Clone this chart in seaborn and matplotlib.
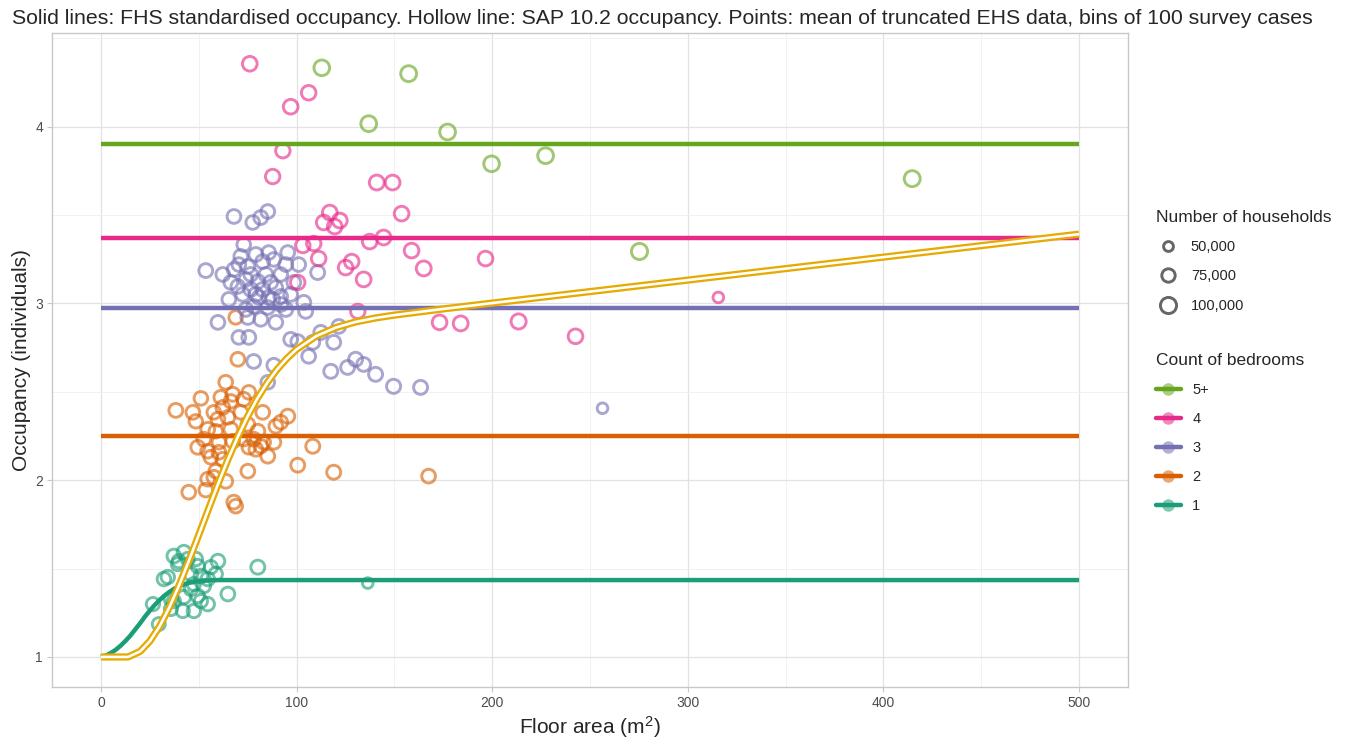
import numpy as np
import pandas as pd
import matplotlib
matplotlib.use("Agg")
import matplotlib.pyplot as plt
import seaborn as sns
from matplotlib.lines import Line2D
from matplotlib.colors import to_rgba

# ---------------- data ----------------
bedroom_order = ["5+", "4", "3", "2", "1"]
palette = {"1": "#1B9E77", "2": "#D95F02", "3": "#7570B3", "4": "#E7298A", "5+": "#66A61E"}
sap_colour = "#E6AB02"

# FHS standardised occupancy (horizontal lines)
fhs_bedrooms = ["5+", "4", "3", "2"]
fhs_occ = [3.90, 3.373, 2.977, 2.249]
fhs_area_range = [0, 500]

# 1-bedroom FHS curve
bed1_area = [0, 2.5, 5, 7.5, 10, 12.5, 15, 17.5, 20, 22.5, 25, 27.5, 30, 32.5, 35, 37.5, 40,
             42.5, 45, 47.5, 50, 55, 60, 70, 500]
bed1_occ = [1.00, 1.008, 1.022, 1.04, 1.063, 1.09, 1.12, 1.155, 1.19, 1.228, 1.262, 1.294, 1.322,
            1.347, 1.368, 1.386, 1.400, 1.411, 1.419, 1.425, 1.429, 1.433, 1.435, 1.435, 1.435]

# SAP 10.2 occupancy curve
sap_area = [0, 13.9, 20, 25, 30, 35, 40, 45, 50, 55, 60, 65, 70, 75, 80, 85, 90, 95, 100,
            110, 120, 130, 140, 150, 175, 200, 300, 400, 500]
sap_occ = [1.0, 1.0, 1.031, 1.089, 1.173, 1.281, 1.406, 1.545, 1.690, 1.837, 1.982, 2.119,
           2.246, 2.361, 2.463, 2.551, 2.626, 2.688, 2.740, 2.815, 2.863, 2.895, 2.917,
           2.934, 2.969, 3.002, 3.132, 3.262, 3.392]

# EHS binned means
b1_area = [26.6, 29.6, 32.2, 34.2, 37.3, 39.8, 42.4, 44.4, 39.3, 49.5, 59.8, 56.2, 46.0, 51.1, 54.6,
           47.5, 46.0, 49.5, 54.6, 41.9, 47.5, 35.8, 35.8, 51.1, 52.6, 64.9, 80.2, 136.4, 42.4, 37.3,
           48.5, 58.7]
b1_occ = [1.299, 1.186, 1.441, 1.452, 1.571, 1.542, 1.593, 1.554, 1.525, 1.514, 1.542, 1.508, 1.469,
          1.458, 1.441, 1.412, 1.384, 1.345, 1.299, 1.260, 1.260, 1.271, 1.328, 1.316, 1.401, 1.356,
          1.508, 1.418, 1.339, 1.316, 1.554, 1.469]
b1_hh = [74000, 72000, 76000, 75000, 78000, 74000, 77000, 75000, 73000, 76000, 78000, 74000, 75000,
         77000, 76000, 74000, 73000, 75000, 76000, 74000, 75000, 73000, 76000, 74000, 75000, 78000,
         80000, 55000, 75000, 74000, 76000, 75000]

b2_area = [63.8, 51.1, 38.3, 47.0, 48.5, 61.3, 67.4, 75.6, 73.0, 66.4, 62.3, 57.7, 59.8, 64.9, 71.5,
           82.7, 95.5, 91.9, 89.4, 54.6, 58.7, 66.4, 75.1, 80.2, 52.6, 60.3, 67.4, 73.0, 78.1, 83.2,
           88.4, 49.5, 54.6, 60.3, 75.6, 79.2, 81.7, 85.3, 56.2, 62.3, 108.3, 100.6, 119.0, 75.1, 58.7,
           54.6, 57.7, 63.8, 44.9, 53.6, 67.9, 68.9, 68.9, 70.0, 167.5]
b2_occ = [2.554, 2.463, 2.395, 2.384, 2.333, 2.469, 2.486, 2.497, 2.458, 2.446, 2.412, 2.384, 2.345,
          2.356, 2.384, 2.384, 2.362, 2.328, 2.305, 2.288, 2.277, 2.288, 2.316, 2.277, 2.232, 2.215,
          2.220, 2.232, 2.232, 2.215, 2.215, 2.186, 2.164, 2.158, 2.186, 2.175, 2.192, 2.136, 2.130,
          2.119, 2.192, 2.085, 2.045, 2.051, 2.051, 2.006, 2.017, 1.994, 1.932, 1.944, 1.876, 1.853,
          2.921, 2.684, 2.023]
b2_hh = [78000, 77000, 79000, 78000, 76000, 78000, 79000, 77000, 78000, 76000, 78000, 77000, 79000,
         78000, 77000, 78000, 80000, 78000, 77000, 78000, 76000, 78000, 77000, 79000, 78000, 77000,
         78000, 76000, 78000, 77000, 79000, 78000, 77000, 78000, 76000, 78000, 77000, 79000, 78000,
         77000, 80000, 79000, 80000, 78000, 77000, 78000, 77000, 79000, 78000, 77000, 78000, 77000,
         76000, 78000, 78000]

b3_area = [68.0, 77.6, 81.7, 85.3, 73.0, 71.5, 79.2, 85.8, 95.5, 53.6, 62.3, 68.0, 75.1, 82.7, 88.4,
           101.1, 110.8, 66.4, 74.1, 80.2, 86.8, 91.9, 98.6, 65.4, 72.5, 79.2, 85.8, 91.9, 97.0, 103.7,
           78.1, 85.3, 91.9, 75.1, 81.7, 89.4, 59.8, 70.5, 75.6, 97.0, 100.6, 78.1, 88.4, 85.3, 106.2,
           112.4, 119.0, 121.6, 108.3, 117.5, 126.1, 130.2, 134.3, 140.4, 149.6, 163.4, 256.4, 104.7,
           70.0, 76.6, 82.7, 89.4, 74.1, 80.7, 84.3, 76.6, 70.5, 94.5, 94.5, 87.8]
b3_occ = [3.492, 3.458, 3.486, 3.520, 3.333, 3.266, 3.277, 3.288, 3.288, 3.186, 3.164, 3.192, 3.209,
          3.237, 3.249, 3.220, 3.175, 3.119, 3.136, 3.124, 3.119, 3.164, 3.119, 3.023, 3.051, 3.051,
          3.034, 3.040, 3.051, 3.006, 2.983, 2.977, 2.994, 2.921, 2.910, 2.893, 2.893, 2.808, 2.808,
          2.797, 2.785, 2.672, 2.650, 2.554, 2.701, 2.836, 2.780, 2.870, 2.780, 2.616, 2.638, 2.684,
          2.655, 2.599, 2.531, 2.525, 2.407, 2.955, 3.096, 3.079, 3.079, 3.090, 2.966, 3.034, 3.164,
          3.164, 3.220, 3.220, 2.966, 3.023]
b3_hh = [78000, 77000, 79000, 78000, 77000, 78000, 79000, 77000, 78000, 79000, 78000, 77000, 78000,
         79000, 77000, 78000, 80000, 78000, 77000, 78000, 79000, 77000, 78000, 78000, 77000, 79000,
         78000, 77000, 78000, 79000, 78000, 77000, 78000, 79000, 77000, 78000, 78000, 77000, 79000,
         78000, 77000, 78000, 79000, 77000, 78000, 80000, 79000, 78000, 79000, 80000, 79000, 80000,
         79000, 80000, 81000, 80000, 55000, 78000, 77000, 78000, 79000, 77000, 78000, 77000, 79000,
         78000, 77000, 78000, 79000, 78000]

b4_area = [76.1, 97.0, 106.2, 93.0, 87.8, 141.0, 149.1, 153.7, 117.0, 113.9, 122.1, 119.5, 103.2,
           108.8, 111.3, 137.4, 144.5, 158.8, 165.0, 125.1, 128.2, 134.3, 100.6, 131.3, 173.1, 183.9,
           196.6, 213.5, 242.6, 315.6]
b4_occ = [4.356, 4.113, 4.192, 3.864, 3.718, 3.684, 3.684, 3.508, 3.514, 3.458, 3.469, 3.435, 3.328,
          3.339, 3.254, 3.350, 3.373, 3.299, 3.198, 3.203, 3.237, 3.136, 3.119, 2.955, 2.893, 2.887,
          3.254, 2.898, 2.814, 3.034]
b4_hh = [86000, 86000, 85000, 84000, 84000, 88000, 87000, 86000, 87000, 86000, 87000, 86000, 85000,
         84000, 85000, 86000, 87000, 86000, 88000, 86000, 85000, 87000, 84000, 84000, 86000, 88000,
         86000, 90000, 86000, 55000]

b5_area = [112.9, 136.9, 157.3, 177.2, 199.7, 227.3, 275.3, 414.7]
b5_occ = [4.333, 4.017, 4.300, 3.970, 3.790, 3.836, 3.294, 3.706]
b5_hh = [95000, 96000, 97000, 96000, 95000, 96000, 100000, 98000]

# legend size levels
size_levels = [50000, 75000, 100000]
size_labels = ["50,000", "75,000", "100,000"]

# ---------------- frames ----------------
groups = [("1", b1_area, b1_occ, b1_hh), ("2", b2_area, b2_occ, b2_hh),
          ("3", b3_area, b3_occ, b3_hh), ("4", b4_area, b4_occ, b4_hh),
          ("5+", b5_area, b5_occ, b5_hh)]
pts = pd.concat([pd.DataFrame({"area": a, "occ": o, "households": h, "bedrooms": b})
                 for b, a, o, h in groups], ignore_index=True)

fhs_rows = []
for b, v in zip(fhs_bedrooms, fhs_occ):
    for xx in fhs_area_range:
        fhs_rows.append({"area": xx, "occ": v, "bedrooms": b})
fhs = pd.DataFrame(fhs_rows)
bed1 = pd.DataFrame({"area": bed1_area, "occ": bed1_occ, "bedrooms": "1"})
fhs = pd.concat([fhs, bed1], ignore_index=True)
sap = pd.DataFrame({"area": sap_area, "occ": sap_occ})

# ---------------- style ----------------
sns.set_style("white")
plt.rcParams["font.family"] = ["Liberation Sans", "DejaVu Sans"]
plt.rcParams["mathtext.default"] = "regular"

W, H = 1348, 743
fig = plt.figure(figsize=(W / 100, H / 100), dpi=100)
L, R, T, B = 52, 1128, 33, 687
ax = fig.add_axes([L / W, 1 - B / H, (R - L) / W, (B - T) / H])

smin, smax = 50, 135
sns.scatterplot(data=pts, x="area", y="occ", hue="bedrooms", palette=palette,
                size="households", sizes=(smin, smax), size_norm=(50000, 100000),
                legend=False, ax=ax, linewidth=0, zorder=3)
coll = ax.collections[-1]
fc = coll.get_facecolors().copy()
fc[:, 3] = 0.62
coll.set_edgecolors(fc)
coll.set_facecolors("none")
coll.set_linewidths(2.1)

sns.lineplot(data=fhs, x="area", y="occ", hue="bedrooms", palette=palette,
             units="bedrooms", estimator=None, sort=False, lw=3.2, legend=False, ax=ax,
             zorder=4, solid_capstyle="butt")
sns.lineplot(data=sap, x="area", y="occ", color=sap_colour, lw=5.2, sort=False,
             estimator=None, ax=ax, zorder=5, solid_capstyle="butt")
sns.lineplot(data=sap, x="area", y="occ", color="white", lw=1.9, sort=False,
             estimator=None, ax=ax, zorder=6, solid_capstyle="butt")

# axes styling
ax.set_xlim(-25, 525)
ax.set_ylim(0.83, 4.53)
ax.set_xticks([0, 100, 200, 300, 400, 500])
ax.set_xticks([50, 150, 250, 350, 450], minor=True)
ax.set_yticks([1, 2, 3, 4])
ax.set_yticks([1.5, 2.5, 3.5, 4.5], minor=True)
ax.grid(which="major", color="#E2E2E2", lw=0.9)
ax.grid(which="minor", color="#EFEFEF", lw=0.6)
ax.set_axisbelow(True)
for sp in ax.spines.values():
    sp.set_color("#C8C8C8")
    sp.set_linewidth(1.0)
ax.tick_params(which="major", length=3.5, width=0.8, color="#C8C8C8",
               labelsize=10, labelcolor="#4D4D4D", pad=3, left=True, bottom=True)
ax.tick_params(which="minor", length=0)
ax.set_xlabel("Floor area (m$^{2}$)", fontsize=15, labelpad=3)
ax.set_ylabel("Occupancy (individuals)", fontsize=15, labelpad=3)

fig.text(12 / W, 1 - 18 / H,
         "Solid lines: FHS standardised occupancy. Hollow line: SAP 10.2 occupancy. "
         "Points: mean of truncated EHS data, bins of 100 survey cases",
         fontsize=15.3, ha="left", va="center")

# legends
def size_to_s(v):
    return smin + (v - 50000) / 50000 * (smax - smin)

size_handles = [Line2D([], [], ls="none", marker="o", markersize=np.sqrt(size_to_s(v)),
                       markerfacecolor="none", markeredgecolor="#666666", markeredgewidth=2.1)
                for v in size_levels]
leg1 = ax.legend(size_handles, size_labels, title="Number of households",
                 loc="upper left", bbox_to_anchor=(1150 / W, 1 - 204 / H),
                 bbox_transform=fig.transFigure, frameon=False, fontsize=10.5,
                 title_fontsize=12.5, alignment="left", handlelength=1.6,
                 handletextpad=0.8, labelspacing=1.05, borderaxespad=0)
ax.add_artist(leg1)

bed_handles = [Line2D([], [], color=palette[b], lw=3.2, marker="o", markersize=9,
                      markerfacecolor=to_rgba(palette[b], 0.55), markeredgecolor="none")
               for b in bedroom_order]
leg2 = ax.legend(bed_handles, bedroom_order, title="Count of bedrooms",
                 loc="upper left", bbox_to_anchor=(1150 / W, 1 - 347 / H),
                 bbox_transform=fig.transFigure, frameon=False, fontsize=10.5,
                 title_fontsize=12.5, alignment="left", handlelength=1.7,
                 handletextpad=0.8, labelspacing=1.03, borderaxespad=0)

fig.savefig("out.png", dpi=100)
